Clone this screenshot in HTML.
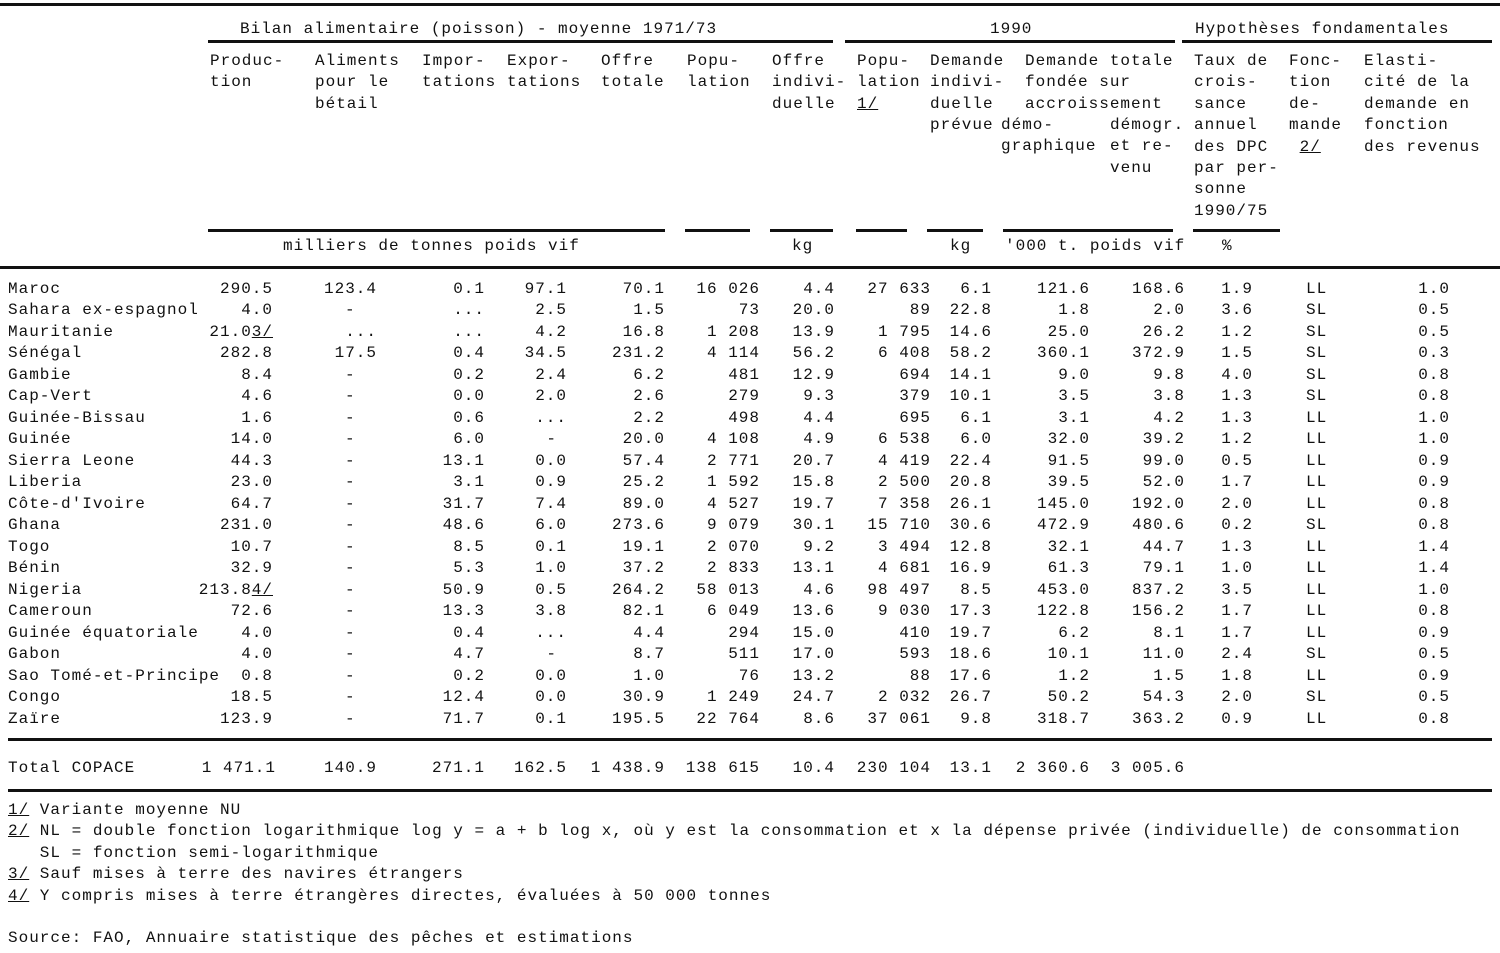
<!DOCTYPE html>
<html><head><meta charset="utf-8"><style>
body{margin:0;width:1500px;height:953px;background:#fff;position:relative;overflow:hidden;font-family:"Liberation Mono",monospace;font-size:16px;letter-spacing:1px;color:#111}
.t{position:absolute;white-space:pre;line-height:21.4px}
.l{position:absolute;height:3px;background:#111}
.r{position:absolute;height:21px}
.r span{position:absolute;top:0;white-space:pre}
.n{left:8px}.p{right:1227px}.a{right:1123px}.ad{left:345px}.i{right:1015px}.e{right:933px}.o{right:835px}.pp{right:740px}.oi{right:665px}.p9{right:569px}.d{right:508px}.d1{right:410px}.d2{right:315px}.tx{right:247px}.f{left:1306px}.el{right:50px}
.r{left:0;width:1500px}
</style></head><body>
<div class="l" style="left:0;top:3px;width:1500px"></div>
<div class="t" style="left:240px;top:19px">Bilan alimentaire (poisson) - moyenne 1971/73</div>
<div class="t" style="left:990px;top:19px">1990</div>
<div class="t" style="left:1195px;top:19px">Hypothèses fondamentales</div>
<div class="l" style="left:208px;top:40px;width:625px"></div>
<div class="l" style="left:845px;top:40px;width:330px"></div>
<div class="l" style="left:1182px;top:40px;width:310px"></div>
<div class="t" style="left:210px;top:51px">Produc-
tion</div>
<div class="t" style="left:315px;top:51px">Aliments
pour le
bétail</div>
<div class="t" style="left:422px;top:51px">Impor-
tations</div>
<div class="t" style="left:507px;top:51px">Expor-
tations</div>
<div class="t" style="left:601px;top:51px">Offre
totale</div>
<div class="t" style="left:687px;top:51px">Popu-
lation</div>
<div class="t" style="left:772px;top:51px">Offre
indivi-
duelle</div>
<div class="t" style="left:857px;top:51px">Popu-
lation
<u>1/</u></div>
<div class="t" style="left:930px;top:51px">Demande
indivi-
duelle
prévue</div>
<div class="t" style="left:1025px;top:51px">Demande totale
fondée sur
accroissement</div>
<div class="t" style="left:1001px;top:115px">démo-
graphique</div>
<div class="t" style="left:1110px;top:115px">démogr.
et re-
venu</div>
<div class="t" style="left:1194px;top:51px">Taux de
crois-
sance
annuel
des DPC
par per-
sonne
1990/75</div>
<div class="t" style="left:1289px;top:51px">Fonc-
tion
de-
mande
 <u>2/</u></div>
<div class="t" style="left:1364px;top:51px">Elasti-
cité de la
demande en
fonction
des revenus</div>
<div class="l" style="left:208px;top:229px;width:457px"></div>
<div class="l" style="left:685px;top:229px;width:65px"></div>
<div class="l" style="left:770px;top:229px;width:63px"></div>
<div class="l" style="left:856px;top:229px;width:51px"></div>
<div class="l" style="left:927px;top:229px;width:56px"></div>
<div class="l" style="left:1003px;top:229px;width:170px"></div>
<div class="l" style="left:1193px;top:229px;width:87px"></div>
<div class="t" style="left:283px;top:236px">milliers de tonnes poids vif</div>
<div class="t" style="left:792px;top:236px">kg</div>
<div class="t" style="left:950px;top:236px">kg</div>
<div class="t" style="left:1005px;top:236px">'000 t. poids vif</div>
<div class="t" style="left:1222px;top:236px">%</div>
<div class="l" style="left:0;top:266px;width:1500px"></div>

<div class="r" style="top:280px"><span class="n">Maroc</span><span class="p">290.5</span><span class="a">123.4</span><span class="i">0.1</span><span class="e">97.1</span><span class="o">70.1</span><span class="pp">16 026</span><span class="oi">4.4</span><span class="p9">27 633</span><span class="d">6.1</span><span class="d1">121.6</span><span class="d2">168.6</span><span class="tx">1.9</span><span class="f">LL</span><span class="el">1.0</span></div>
<div class="r" style="top:301px"><span class="n">Sahara ex-espagnol</span><span class="p">4.0</span><span class="ad">-</span><span class="i">...</span><span class="e">2.5</span><span class="o">1.5</span><span class="pp">73</span><span class="oi">20.0</span><span class="p9">89</span><span class="d">22.8</span><span class="d1">1.8</span><span class="d2">2.0</span><span class="tx">3.6</span><span class="f">SL</span><span class="el">0.5</span></div>
<div class="r" style="top:323px"><span class="n">Mauritanie</span><span class="p">21.0<u>3/</u></span><span class="a">...</span><span class="i">...</span><span class="e">4.2</span><span class="o">16.8</span><span class="pp">1 208</span><span class="oi">13.9</span><span class="p9">1 795</span><span class="d">14.6</span><span class="d1">25.0</span><span class="d2">26.2</span><span class="tx">1.2</span><span class="f">SL</span><span class="el">0.5</span></div>
<div class="r" style="top:344px"><span class="n">Sénégal</span><span class="p">282.8</span><span class="a">17.5</span><span class="i">0.4</span><span class="e">34.5</span><span class="o">231.2</span><span class="pp">4 114</span><span class="oi">56.2</span><span class="p9">6 408</span><span class="d">58.2</span><span class="d1">360.1</span><span class="d2">372.9</span><span class="tx">1.5</span><span class="f">SL</span><span class="el">0.3</span></div>
<div class="r" style="top:366px"><span class="n">Gambie</span><span class="p">8.4</span><span class="ad">-</span><span class="i">0.2</span><span class="e">2.4</span><span class="o">6.2</span><span class="pp">481</span><span class="oi">12.9</span><span class="p9">694</span><span class="d">14.1</span><span class="d1">9.0</span><span class="d2">9.8</span><span class="tx">4.0</span><span class="f">SL</span><span class="el">0.8</span></div>
<div class="r" style="top:387px"><span class="n">Cap-Vert</span><span class="p">4.6</span><span class="ad">-</span><span class="i">0.0</span><span class="e">2.0</span><span class="o">2.6</span><span class="pp">279</span><span class="oi">9.3</span><span class="p9">379</span><span class="d">10.1</span><span class="d1">3.5</span><span class="d2">3.8</span><span class="tx">1.3</span><span class="f">SL</span><span class="el">0.8</span></div>
<div class="r" style="top:409px"><span class="n">Guinée-Bissau</span><span class="p">1.6</span><span class="ad">-</span><span class="i">0.6</span><span class="e">...</span><span class="o">2.2</span><span class="pp">498</span><span class="oi">4.4</span><span class="p9">695</span><span class="d">6.1</span><span class="d1">3.1</span><span class="d2">4.2</span><span class="tx">1.3</span><span class="f">LL</span><span class="el">1.0</span></div>
<div class="r" style="top:430px"><span class="n">Guinée</span><span class="p">14.0</span><span class="ad">-</span><span class="i">6.0</span><span class="e" style="right:943px">-</span><span class="o">20.0</span><span class="pp">4 108</span><span class="oi">4.9</span><span class="p9">6 538</span><span class="d">6.0</span><span class="d1">32.0</span><span class="d2">39.2</span><span class="tx">1.2</span><span class="f">LL</span><span class="el">1.0</span></div>
<div class="r" style="top:452px"><span class="n">Sierra Leone</span><span class="p">44.3</span><span class="ad">-</span><span class="i">13.1</span><span class="e">0.0</span><span class="o">57.4</span><span class="pp">2 771</span><span class="oi">20.7</span><span class="p9">4 419</span><span class="d">22.4</span><span class="d1">91.5</span><span class="d2">99.0</span><span class="tx">0.5</span><span class="f">LL</span><span class="el">0.9</span></div>
<div class="r" style="top:473px"><span class="n">Liberia</span><span class="p">23.0</span><span class="ad">-</span><span class="i">3.1</span><span class="e">0.9</span><span class="o">25.2</span><span class="pp">1 592</span><span class="oi">15.8</span><span class="p9">2 500</span><span class="d">20.8</span><span class="d1">39.5</span><span class="d2">52.0</span><span class="tx">1.7</span><span class="f">LL</span><span class="el">0.9</span></div>
<div class="r" style="top:495px"><span class="n">Côte-d'Ivoire</span><span class="p">64.7</span><span class="ad">-</span><span class="i">31.7</span><span class="e">7.4</span><span class="o">89.0</span><span class="pp">4 527</span><span class="oi">19.7</span><span class="p9">7 358</span><span class="d">26.1</span><span class="d1">145.0</span><span class="d2">192.0</span><span class="tx">2.0</span><span class="f">LL</span><span class="el">0.8</span></div>
<div class="r" style="top:516px"><span class="n">Ghana</span><span class="p">231.0</span><span class="ad">-</span><span class="i">48.6</span><span class="e">6.0</span><span class="o">273.6</span><span class="pp">9 079</span><span class="oi">30.1</span><span class="p9">15 710</span><span class="d">30.6</span><span class="d1">472.9</span><span class="d2">480.6</span><span class="tx">0.2</span><span class="f">SL</span><span class="el">0.8</span></div>
<div class="r" style="top:538px"><span class="n">Togo</span><span class="p">10.7</span><span class="ad">-</span><span class="i">8.5</span><span class="e">0.1</span><span class="o">19.1</span><span class="pp">2 070</span><span class="oi">9.2</span><span class="p9">3 494</span><span class="d">12.8</span><span class="d1">32.1</span><span class="d2">44.7</span><span class="tx">1.3</span><span class="f">LL</span><span class="el">1.4</span></div>
<div class="r" style="top:559px"><span class="n">Bénin</span><span class="p">32.9</span><span class="ad">-</span><span class="i">5.3</span><span class="e">1.0</span><span class="o">37.2</span><span class="pp">2 833</span><span class="oi">13.1</span><span class="p9">4 681</span><span class="d">16.9</span><span class="d1">61.3</span><span class="d2">79.1</span><span class="tx">1.0</span><span class="f">LL</span><span class="el">1.4</span></div>
<div class="r" style="top:581px"><span class="n">Nigeria</span><span class="p">213.8<u>4/</u></span><span class="ad">-</span><span class="i">50.9</span><span class="e">0.5</span><span class="o">264.2</span><span class="pp">58 013</span><span class="oi">4.6</span><span class="p9">98 497</span><span class="d">8.5</span><span class="d1">453.0</span><span class="d2">837.2</span><span class="tx">3.5</span><span class="f">LL</span><span class="el">1.0</span></div>
<div class="r" style="top:602px"><span class="n">Cameroun</span><span class="p">72.6</span><span class="ad">-</span><span class="i">13.3</span><span class="e">3.8</span><span class="o">82.1</span><span class="pp">6 049</span><span class="oi">13.6</span><span class="p9">9 030</span><span class="d">17.3</span><span class="d1">122.8</span><span class="d2">156.2</span><span class="tx">1.7</span><span class="f">LL</span><span class="el">0.8</span></div>
<div class="r" style="top:624px"><span class="n">Guinée équatoriale</span><span class="p">4.0</span><span class="ad">-</span><span class="i">0.4</span><span class="e">...</span><span class="o">4.4</span><span class="pp">294</span><span class="oi">15.0</span><span class="p9">410</span><span class="d">19.7</span><span class="d1">6.2</span><span class="d2">8.1</span><span class="tx">1.7</span><span class="f">LL</span><span class="el">0.9</span></div>
<div class="r" style="top:645px"><span class="n">Gabon</span><span class="p">4.0</span><span class="ad">-</span><span class="i">4.7</span><span class="e" style="right:943px">-</span><span class="o">8.7</span><span class="pp">511</span><span class="oi">17.0</span><span class="p9">593</span><span class="d">18.6</span><span class="d1">10.1</span><span class="d2">11.0</span><span class="tx">2.4</span><span class="f">SL</span><span class="el">0.5</span></div>
<div class="r" style="top:667px"><span class="n">Sao Tomé-et-Principe</span><span class="p">0.8</span><span class="ad">-</span><span class="i">0.2</span><span class="e">0.0</span><span class="o">1.0</span><span class="pp">76</span><span class="oi">13.2</span><span class="p9">88</span><span class="d">17.6</span><span class="d1">1.2</span><span class="d2">1.5</span><span class="tx">1.8</span><span class="f">LL</span><span class="el">0.9</span></div>
<div class="r" style="top:688px"><span class="n">Congo</span><span class="p">18.5</span><span class="ad">-</span><span class="i">12.4</span><span class="e">0.0</span><span class="o">30.9</span><span class="pp">1 249</span><span class="oi">24.7</span><span class="p9">2 032</span><span class="d">26.7</span><span class="d1">50.2</span><span class="d2">54.3</span><span class="tx">2.0</span><span class="f">SL</span><span class="el">0.5</span></div>
<div class="r" style="top:710px"><span class="n">Zaïre</span><span class="p">123.9</span><span class="ad">-</span><span class="i">71.7</span><span class="e">0.1</span><span class="o">195.5</span><span class="pp">22 764</span><span class="oi">8.6</span><span class="p9">37 061</span><span class="d">9.8</span><span class="d1">318.7</span><span class="d2">363.2</span><span class="tx">0.9</span><span class="f">LL</span><span class="el">0.8</span></div>
<div class="l" style="left:8px;top:738px;width:1484px"></div>
<div class="r" style="top:759px"><span class="n">Total COPACE</span><span class="p" style="right:1224px">1 471.1</span><span class="a">140.9</span><span class="i">271.1</span><span class="e">162.5</span><span class="o">1 438.9</span><span class="pp">138 615</span><span class="oi">10.4</span><span class="p9">230 104</span><span class="d">13.1</span><span class="d1">2 360.6</span><span class="d2">3 005.6</span></div>
<div class="l" style="left:8px;top:789px;width:1484px"></div>
<div class="t" style="left:8px;top:800px"><u>1/</u> Variante moyenne NU
<u>2/</u> NL = double fonction logarithmique log y = a + b log x, où y est la consommation et x la dépense privée (individuelle) de consommation
   SL = fonction semi-logarithmique
<u>3/</u> Sauf mises à terre des navires étrangers
<u>4/</u> Y compris mises à terre étrangères directes, évaluées à 50 000 tonnes</div>
<div class="t" style="left:8px;top:928px">Source: FAO, Annuaire statistique des pêches et estimations</div>
</body></html>
